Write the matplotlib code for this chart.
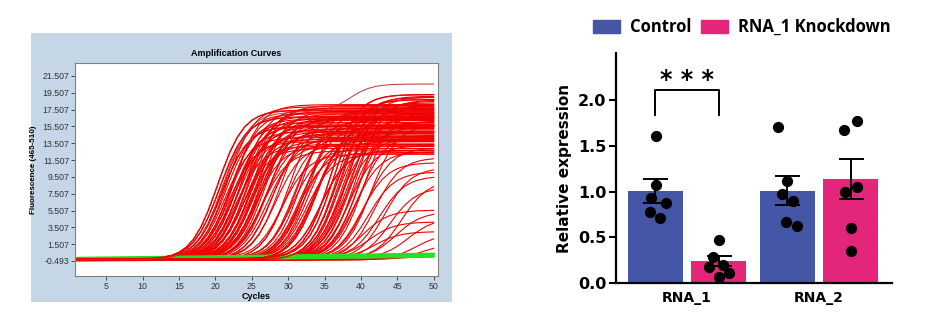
import numpy as np
import matplotlib.pyplot as plt
from matplotlib.patches import Rectangle, Patch

# ---- left panel: amplification curves (midpoint cycle + plateau per well) ----
cycles = np.arange(1, 51)

early_ct = [20.3, 20.6, 20.9, 21.1, 21.3, 21.4, 21.6, 21.8, 21.9, 22.0,
            22.2, 22.3, 22.5, 22.6, 22.7, 22.9, 23.0, 23.1, 23.3, 23.4,
            23.5, 23.6, 23.8, 23.9, 24.0, 24.1, 24.3, 24.4, 24.5, 24.6,
            24.8, 24.9, 25.0, 25.2, 25.3, 25.4, 25.6, 25.7, 25.8, 26.0,
            26.1, 26.2, 26.4, 26.5, 26.7, 26.8, 27.0, 27.2, 27.4, 27.7]
early_plat = [17.8, 16.9, 15.8, 17.2, 14.6, 16.3, 18.1, 15.2, 13.9, 16.8,
              17.5, 14.2, 15.9, 18.3, 16.1, 13.5, 17.0, 15.4, 16.6, 14.8,
              18.0, 15.7, 13.2, 16.4, 17.7, 14.4, 15.1, 16.9, 17.9, 13.8,
              15.6, 16.2, 14.1, 18.2, 15.0, 16.7, 13.4, 17.3, 14.9, 16.0,
              15.3, 17.6, 12.9, 16.5, 14.3, 17.1, 15.5, 13.7, 16.8, 14.6]

mid_ct = [27.9, 28.3, 28.8, 29.2, 29.7, 30.1, 30.6, 30.9, 31.2, 31.4, 31.6,
          31.8, 32.0, 32.2, 32.4, 32.6, 32.8, 33.0, 33.3, 33.6, 34.0, 34.5]
mid_plat = [15.2, 13.6, 16.8, 12.4, 14.7, 17.4, 13.1, 15.9, 16.4, 12.8, 14.2,
            17.8, 13.5, 15.6, 16.9, 12.6, 14.9, 18.0, 13.9, 15.3, 16.1, 12.9]

late_ct = [35.8, 36.2, 36.5, 36.7, 36.9, 37.1, 37.3, 37.4, 37.6, 37.8,
           37.9, 38.1, 38.2, 38.4, 38.6, 38.7, 38.9, 39.1, 39.3, 39.5,
           39.7, 39.9, 40.1, 40.4, 40.7, 41.0, 41.4, 41.9]
late_plat = [19.6, 18.9, 17.4, 19.3, 16.2, 18.6, 15.1, 19.5, 17.9, 14.3,
             18.2, 16.7, 19.4, 13.6, 17.1, 18.8, 15.7, 12.9, 19.0, 16.4,
             14.8, 18.4, 11.6, 17.6, 13.2, 10.4, 15.9, 12.2]

tail_ct = [40.2, 41.0, 41.8, 42.5, 43.3, 44.0, 44.8, 45.6, 46.5, 47.6, 48.6, 49.8]
tail_plat = [5.9, 4.4, 3.3, 9.8, 11.0, 8.6, 5.6, 9.4, 4.8, 3.2, 2.0, 1.2]

# highest well: two-step rise
top_ct = [21.0, 38.5]
top_plat = [17.6, 3.3]

base_levels = [-0.35, -0.25, -0.3, -0.2, -0.4]
neg_levels = [-0.5, -0.42, -0.34, -0.26, -0.18, -0.1]

# ---- right panel: qPCR bar chart ----
genes = ['RNA_1', 'RNA_2']
ctrl_mean = [1.01, 1.01]
kd_mean = [0.24, 1.14]
ctrl_sem = [0.13, 0.16]
kd_sem = [0.055, 0.22]
ctrl_pts = [[1.61, 1.07, 0.93, 0.88, 0.78, 0.71],
            [1.71, 1.12, 0.98, 0.90, 0.67, 0.62]]
kd_pts = [[0.47, 0.29, 0.18, 0.20, 0.11, 0.07],
          [1.68, 1.77, 1.00, 1.05, 0.60, 0.35]]
ctrl_jit = [[0.006, 0.001, -0.037, 0.077, -0.044, 0.037],
            [-0.071, -0.005, -0.040, 0.045, -0.010, 0.073]]
kd_jit = [[0.004, -0.039, -0.069, 0.037, 0.080, 0.004],
          [-0.047, 0.047, -0.042, 0.047, 0.001, 0.001]]

W, H = 936, 322
fig = plt.figure(figsize=(W / 100, H / 100), dpi=100)
fig.patches.append(Rectangle((31 / W, 20 / H), 421 / W, 269 / H, transform=fig.transFigure,
                             facecolor='#c5d7e7', edgecolor='none', zorder=-5))

ax1 = fig.add_axes([75 / W, 46 / H, 363 / W, 213 / H])
ax1.set_zorder(2)


def sig(c, ct, plat, slope=1.8):
    return plat / (1 + np.exp(-(c - ct) / slope))


all_ct = early_ct + mid_ct + late_ct + tail_ct
all_plat = early_plat + mid_plat + late_plat + tail_plat
curves = []
for i, (ct, pl) in enumerate(zip(all_ct, all_plat)):
    y = base_levels[i % len(base_levels)] + sig(cycles, ct, pl)
    curves.append(y)
    ax1.plot(cycles, y, color='#f00000', lw=0.8, zorder=2)

# negative controls (green) sit on top of the flat baselines
for lvl in neg_levels:
    ax1.plot(cycles, lvl + 0.01 * (cycles - 1), color='#22e022', lw=1.3, zorder=3)

# some wells redrawn on top so the early baseline reads red
n_early = len(early_ct)
n_mid = len(mid_ct)
for k in [0, 1, 2, n_early + n_mid - 3, n_early + n_mid - 2, n_early + n_mid - 1,
          n_early + n_mid, n_early + n_mid + 1, n_early + n_mid + 2]:
    ax1.plot(cycles, curves[k], color='#f00000', lw=0.9, zorder=4)

y_top = base_levels[0] + sig(cycles, top_ct[0], top_plat[0]) + sig(cycles, top_ct[1], top_plat[1], 1.5)
ax1.plot(cycles, y_top, color='#c03030', lw=0.7, zorder=4)

ax1.set_xlim(0.7, 50.6)
ax1.set_ylim(-2.28, 23.05)
ax1.set_xticks(range(5, 51, 5))
yt = [-0.493 + 2 * k for k in range(12)]
ax1.set_yticks(yt)
ax1.set_yticklabels(['%.3f' % v for v in yt])
ax1.tick_params(labelsize=6.3, colors='#333333', length=3, width=0.6, pad=1)
for s in ax1.spines.values():
    s.set_color('#808080')
    s.set_linewidth(0.8)
for lab in ax1.get_xticklabels() + ax1.get_yticklabels():
    lab.set_family('Liberation Sans')
ax1.set_xlabel('Cycles', fontsize=6.5, fontweight='bold', family='Liberation Sans', labelpad=1)
ax1.set_ylabel('Fluorescence (465-510)', fontsize=5.8, fontweight='bold', family='Liberation Sans', labelpad=4)
fig.text(236 / W, 1 - 54 / H, 'Amplification Curves', fontsize=6.5, fontweight='bold',
         family='Liberation Sans', ha='center', va='center')

# ---- right panel ----
blue = '#4656a6'
pink = '#e4267a'
ax2 = fig.add_axes([616 / W, 39 / H, 276 / W, 230 / H])
x = np.arange(len(genes))
bw = 0.417
off = 0.239
ax2.bar(x - off, ctrl_mean, bw, color=blue, zorder=1)
ax2.bar(x + off, kd_mean, bw, color=pink, zorder=1)
ax2.errorbar(x - off, ctrl_mean, yerr=ctrl_sem, fmt='none', ecolor='black',
             elinewidth=1.4, capsize=9, capthick=1.4, zorder=3)
ax2.errorbar(x + off, kd_mean, yerr=kd_sem, fmt='none', ecolor='black',
             elinewidth=1.4, capsize=9, capthick=1.4, zorder=3)
for g in range(len(genes)):
    ax2.scatter(x[g] - off + np.array(ctrl_jit[g]), ctrl_pts[g], s=50, color='black', zorder=4)
    ax2.scatter(x[g] + off + np.array(kd_jit[g]), kd_pts[g], s=50, color='black', zorder=4)

# significance bracket
ax2.plot([-off, -off, off, off], [1.84, 2.12, 2.12, 1.84], color='black', lw=1.4)
ax2.text(0, 2.22, '* * *', ha='center', va='center', fontsize=17, fontweight='bold')

ax2.set_xlim(-0.538, 1.553)
ax2.set_ylim(0, 2.52)
ax2.set_yticks([0, 0.5, 1.0, 1.5, 2.0])
ax2.set_yticklabels(['0.0', '0.5', '1.0', '1.5', '2.0'])
ax2.set_xticks(x)
ax2.set_xticklabels(genes)
ax2.tick_params(axis='y', labelsize=11.5, width=1.5, length=5, pad=2)
ax2.tick_params(axis='x', labelsize=10, length=0, pad=6)
for lab in ax2.get_xticklabels() + ax2.get_yticklabels():
    lab.set_fontweight('bold')
ax2.spines['top'].set_visible(False)
ax2.spines['right'].set_visible(False)
ax2.spines['left'].set_linewidth(1.6)
ax2.spines['bottom'].set_linewidth(1.6)
ax2.set_ylabel('Relative expression', fontsize=11, fontweight='bold', labelpad=4)

handles = [Patch(color=blue, label='Control'), Patch(color=pink, label='RNA_1 Knockdown')]
fig.legend(handles=handles, loc='center', bbox_to_anchor=(742 / W, 1 - 27 / H), ncol=2,
           frameon=False, prop={'family': 'Open Sans', 'weight': 'bold', 'size': 12},
           handlelength=1.6, handleheight=0.8, handletextpad=0.6, columnspacing=0.6)

fig.savefig('out.png', dpi=100)
